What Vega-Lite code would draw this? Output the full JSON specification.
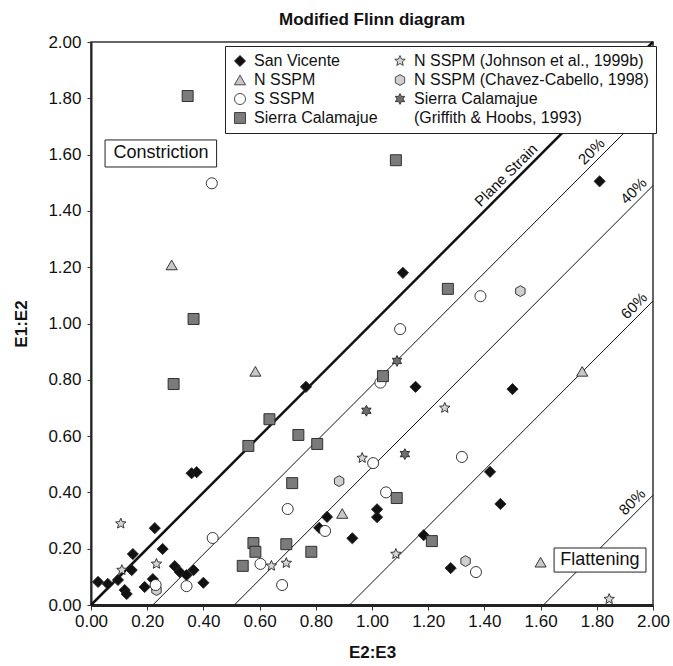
{
  "$schema": "https://vega.github.io/schema/vega-lite/v6.json",
  "width": 562,
  "height": 563,
  "autosize": {"type": "none"},
  "padding": {"left": 91, "top": 42, "right": 20, "bottom": 61},
  "background": "white",
  "config": {
    "font": "Liberation Sans",
    "view": {"stroke": "#333", "strokeWidth": 1.5}
  },
  "title": {
    "text": "Modified Flinn diagram",
    "fontSize": 17,
    "fontWeight": "bold",
    "anchor": "middle",
    "baseline": "bottom",
    "offset": 4,
    "dy": 17,
    "color": "#111"
  },
  "datasets": {
    "pts": [
      {"series": "San Vicente", "x": 1.81, "y": 1.505},
      {"series": "San Vicente", "x": 1.11, "y": 1.18},
      {"series": "San Vicente", "x": 0.765, "y": 0.775},
      {"series": "San Vicente", "x": 1.155, "y": 0.775},
      {"series": "San Vicente", "x": 1.5, "y": 0.767},
      {"series": "San Vicente", "x": 0.358, "y": 0.468},
      {"series": "San Vicente", "x": 0.376, "y": 0.472},
      {"series": "San Vicente", "x": 0.227, "y": 0.273},
      {"series": "San Vicente", "x": 0.255, "y": 0.199},
      {"series": "San Vicente", "x": 0.149, "y": 0.181},
      {"series": "San Vicente", "x": 0.145, "y": 0.124},
      {"series": "San Vicente", "x": 0.025, "y": 0.082},
      {"series": "San Vicente", "x": 0.06, "y": 0.075},
      {"series": "San Vicente", "x": 0.096, "y": 0.089},
      {"series": "San Vicente", "x": 0.12, "y": 0.053},
      {"series": "San Vicente", "x": 0.127, "y": 0.039},
      {"series": "San Vicente", "x": 0.191, "y": 0.064},
      {"series": "San Vicente", "x": 0.22, "y": 0.092},
      {"series": "San Vicente", "x": 0.298, "y": 0.138},
      {"series": "San Vicente", "x": 0.316, "y": 0.117},
      {"series": "San Vicente", "x": 0.34, "y": 0.106},
      {"series": "San Vicente", "x": 0.365, "y": 0.124},
      {"series": "San Vicente", "x": 0.4, "y": 0.079},
      {"series": "San Vicente", "x": 0.84, "y": 0.313},
      {"series": "San Vicente", "x": 0.812, "y": 0.274},
      {"series": "San Vicente", "x": 0.93, "y": 0.237},
      {"series": "San Vicente", "x": 1.018, "y": 0.34},
      {"series": "San Vicente", "x": 1.018, "y": 0.312},
      {"series": "San Vicente", "x": 1.184, "y": 0.248},
      {"series": "San Vicente", "x": 1.28, "y": 0.131},
      {"series": "San Vicente", "x": 1.42, "y": 0.473},
      {"series": "San Vicente", "x": 1.457, "y": 0.359},
      {"series": "N SSPM", "x": 0.287, "y": 1.208},
      {"series": "N SSPM", "x": 0.585, "y": 0.83},
      {"series": "N SSPM", "x": 0.894, "y": 0.325},
      {"series": "N SSPM", "x": 1.748, "y": 0.83},
      {"series": "N SSPM", "x": 1.6, "y": 0.152},
      {"series": "S SSPM", "x": 0.43, "y": 1.498},
      {"series": "S SSPM", "x": 1.1, "y": 0.98},
      {"series": "S SSPM", "x": 1.386, "y": 1.097},
      {"series": "S SSPM", "x": 1.03, "y": 0.79},
      {"series": "S SSPM", "x": 1.004, "y": 0.504},
      {"series": "S SSPM", "x": 1.32, "y": 0.526},
      {"series": "S SSPM", "x": 1.05, "y": 0.4},
      {"series": "S SSPM", "x": 0.833, "y": 0.263},
      {"series": "S SSPM", "x": 0.7, "y": 0.341},
      {"series": "S SSPM", "x": 0.68, "y": 0.071},
      {"series": "S SSPM", "x": 1.37, "y": 0.117},
      {"series": "S SSPM", "x": 0.433, "y": 0.238},
      {"series": "S SSPM", "x": 0.34, "y": 0.067},
      {"series": "S SSPM", "x": 0.603, "y": 0.146},
      {"series": "N SSPM (Chavez-Cabello, 1998)", "x": 1.528, "y": 1.115},
      {"series": "N SSPM (Chavez-Cabello, 1998)", "x": 0.883, "y": 0.44},
      {"series": "N SSPM (Chavez-Cabello, 1998)", "x": 1.333, "y": 0.156},
      {"series": "N SSPM (Chavez-Cabello, 1998)", "x": 0.233, "y": 0.053},
      {"series": "S SSPM", "x": 0.23, "y": 0.071},
      {"series": "Sierra Calamajue", "x": 0.344, "y": 1.808},
      {"series": "Sierra Calamajue", "x": 1.085, "y": 1.58},
      {"series": "Sierra Calamajue", "x": 0.365, "y": 1.016},
      {"series": "Sierra Calamajue", "x": 0.294, "y": 0.785},
      {"series": "Sierra Calamajue", "x": 0.635, "y": 0.66},
      {"series": "Sierra Calamajue", "x": 1.27, "y": 1.123},
      {"series": "Sierra Calamajue", "x": 1.039, "y": 0.813},
      {"series": "Sierra Calamajue", "x": 0.738, "y": 0.604},
      {"series": "Sierra Calamajue", "x": 0.805, "y": 0.572},
      {"series": "Sierra Calamajue", "x": 0.716, "y": 0.433},
      {"series": "Sierra Calamajue", "x": 1.088, "y": 0.38},
      {"series": "Sierra Calamajue", "x": 1.213, "y": 0.227},
      {"series": "Sierra Calamajue", "x": 0.695, "y": 0.216},
      {"series": "Sierra Calamajue", "x": 0.784, "y": 0.189},
      {"series": "Sierra Calamajue", "x": 0.56, "y": 0.565},
      {"series": "Sierra Calamajue", "x": 0.578, "y": 0.22},
      {"series": "Sierra Calamajue", "x": 0.585, "y": 0.189},
      {"series": "Sierra Calamajue", "x": 0.54, "y": 0.139},
      {"series": "N SSPM (Johnson et al., 1999b)", "x": 0.106, "y": 0.289},
      {"series": "N SSPM (Johnson et al., 1999b)", "x": 0.11, "y": 0.124},
      {"series": "N SSPM (Johnson et al., 1999b)", "x": 0.233, "y": 0.146},
      {"series": "N SSPM (Johnson et al., 1999b)", "x": 0.642, "y": 0.139},
      {"series": "N SSPM (Johnson et al., 1999b)", "x": 0.695, "y": 0.149},
      {"series": "N SSPM (Johnson et al., 1999b)", "x": 1.259, "y": 0.7},
      {"series": "N SSPM (Johnson et al., 1999b)", "x": 0.965, "y": 0.522},
      {"series": "N SSPM (Johnson et al., 1999b)", "x": 1.085, "y": 0.181},
      {"series": "N SSPM (Johnson et al., 1999b)", "x": 1.844, "y": 0.021},
      {"series": "Sierra Calamajue (Griffith & Hoobs, 1993)", "x": 1.089, "y": 0.867},
      {"series": "Sierra Calamajue (Griffith & Hoobs, 1993)", "x": 0.98, "y": 0.69},
      {"series": "Sierra Calamajue (Griffith & Hoobs, 1993)", "x": 1.117, "y": 0.536}
    ],
    "strainLines": [
      {"line": "Plane Strain", "x": 0, "y": 0},
      {"line": "Plane Strain", "x": 2, "y": 2}
    ],
    "pctLines": [
      {"line": "20%", "x": 0.22, "y": 0},
      {"line": "20%", "x": 2, "y": 1.78},
      {"line": "40%", "x": 0.51, "y": 0},
      {"line": "40%", "x": 2, "y": 1.49},
      {"line": "60%", "x": 0.92, "y": 0},
      {"line": "60%", "x": 2, "y": 1.08},
      {"line": "80%", "x": 1.61, "y": 0},
      {"line": "80%", "x": 2, "y": 0.39}
    ],
    "lineLabels": [
      {"label": "Plane Strain", "x": 1.502, "y": 1.502},
      {"label": "20%", "x": 1.806, "y": 1.586},
      {"label": "40%", "x": 1.956, "y": 1.446},
      {"label": "60%", "x": 1.958, "y": 1.038},
      {"label": "80%", "x": 1.951, "y": 0.341}
    ],
    "boxes": [
      {"label": "Constriction", "x": 0.05, "x2": 0.447, "y": 1.556, "y2": 1.652},
      {"label": "Flattening", "x": 1.648, "x2": 1.975, "y": 0.117, "y2": 0.2025}
    ],
    "boxLabels": [
      {"label": "Constriction", "x": 0.249, "y": 1.604},
      {"label": "Flattening", "x": 1.811, "y": 0.16}
    ]
  },
  "encoding": {
    "x": {
      "field": "x",
      "type": "quantitative",
      "title": "E2:E3",
      "scale": {"domain": [0, 2], "nice": false, "zero": false},
      "axis": {
        "values": [0, 0.2, 0.4, 0.6, 0.8, 1, 1.2, 1.4, 1.6, 1.8, 2],
        "format": ".2f",
        "grid": false,
        "labelFlush": false,
        "labelFontSize": 17,
        "labelColor": "#111",
        "labelPadding": 3,
        "tickSize": 5,
        "tickColor": "#333",
        "domainColor": "#222",
        "domainWidth": 3,
        "titleFontSize": 17,
        "titleFontWeight": "bold",
        "titleColor": "#111",
        "titlePadding": 15
      }
    },
    "y": {
      "field": "y",
      "type": "quantitative",
      "title": "E1:E2",
      "scale": {"domain": [0, 2], "nice": false, "zero": false},
      "axis": {
        "values": [0, 0.2, 0.4, 0.6, 0.8, 1, 1.2, 1.4, 1.6, 1.8, 2],
        "format": ".2f",
        "grid": false,
        "labelFlush": false,
        "labelFontSize": 17,
        "labelColor": "#111",
        "labelPadding": 6,
        "tickSize": 4,
        "tickColor": "#333",
        "domainColor": "#222",
        "domainWidth": 2,
        "titleFontSize": 17,
        "titleFontWeight": "bold",
        "titleColor": "#111",
        "titlePadding": 17
      }
    }
  },
  "layer": [
    {
      "data": {"name": "strainLines"},
      "mark": {"type": "line", "color": "#111", "strokeWidth": 2.5},
      "encoding": {"detail": {"field": "line"}}
    },
    {
      "data": {"name": "pctLines"},
      "mark": {"type": "line", "color": "#111", "strokeWidth": 1},
      "encoding": {"detail": {"field": "line"}}
    },
    {
      "data": {"name": "lineLabels"},
      "mark": {"type": "text", "angle": 315, "align": "center", "baseline": "bottom", "dy": -2, "fontSize": 15, "color": "#111"},
      "encoding": {"text": {"field": "label"}}
    },
    {
      "data": {"name": "pts"},
      "mark": {"type": "point", "filled": true, "stroke": "#222", "strokeWidth": 0.9, "opacity": 1},
      "encoding": {
        "color": {
          "field": "series",
          "type": "nominal",
          "scale": {
            "domain": ["San Vicente", "N SSPM", "S SSPM", "Sierra Calamajue", "N SSPM (Johnson et al., 1999b)", "N SSPM (Chavez-Cabello, 1998)", "Sierra Calamajue (Griffith & Hoobs, 1993)", "(Griffith & Hoobs, 1993)"],
            "range": ["#111111", "#c8c8c8", "#ffffff", "#7b7b7b", "#d6d6d6", "#cfcfcf", "#6e6e6e", "transparent"]
          },
          "legend": {
            "title": null,
            "orient": "none",
            "legendX": 134,
            "legendY": 4,
            "columns": 2,
            "columnPadding": 14,
            "rowPadding": 3,
            "padding": 7,
            "strokeColor": "#222",
            "fillColor": "white",
            "labelFontSize": 16,
            "labelColor": "#111",
            "labelLimit": 300,
            "labelOffset": 6,
            "symbolSize": 64,
            "symbolStrokeColor": "#222",
            "symbolStrokeWidth": 0.8,
            "labelExpr": "datum.value == 'Sierra Calamajue (Griffith & Hoobs, 1993)' ? 'Sierra Calamajue' : datum.label"
          }
        },
        "shape": {
          "field": "series",
          "type": "nominal",
          "scale": {
            "domain": ["San Vicente", "N SSPM", "S SSPM", "Sierra Calamajue", "N SSPM (Johnson et al., 1999b)", "N SSPM (Chavez-Cabello, 1998)", "Sierra Calamajue (Griffith & Hoobs, 1993)", "(Griffith & Hoobs, 1993)"],
            "range": [
              "diamond",
              "triangle-up",
              "circle",
              "square",
              "M0,-1L0.265,-0.364L0.951,-0.309L0.428,0.139L0.588,0.809L0,0.45L-0.588,0.809L-0.428,0.139L-0.951,-0.309L-0.265,-0.364Z",
              "M0,-1L0.866,-0.5L0.866,0.5L0,1L-0.866,0.5L-0.866,-0.5Z",
              "M0,-1L0.275,-0.476L0.866,-0.5L0.55,0L0.866,0.5L0.275,0.476L0,1L-0.275,0.476L-0.866,0.5L-0.55,0L-0.866,-0.5L-0.275,-0.476Z",
              "M0,0"
            ]
          },
          "legend": {
            "title": null,
            "orient": "none",
            "legendX": 134,
            "legendY": 4,
            "columns": 2,
            "columnPadding": 14,
            "rowPadding": 3,
            "padding": 7,
            "strokeColor": "#222",
            "fillColor": "white",
            "labelFontSize": 16,
            "labelColor": "#111",
            "labelLimit": 300,
            "labelOffset": 6,
            "symbolSize": 64,
            "symbolStrokeColor": "#222",
            "symbolStrokeWidth": 0.8,
            "labelExpr": "datum.value == 'Sierra Calamajue (Griffith & Hoobs, 1993)' ? 'Sierra Calamajue' : datum.label"
          }
        },
        "size": {
          "field": "series",
          "type": "nominal",
          "scale": {
            "domain": ["San Vicente", "N SSPM", "S SSPM", "Sierra Calamajue", "N SSPM (Johnson et al., 1999b)", "N SSPM (Chavez-Cabello, 1998)", "Sierra Calamajue (Griffith & Hoobs, 1993)", "(Griffith & Hoobs, 1993)"],
            "range": [125, 115, 100, 95, 150, 121, 150, 1]
          },
          "legend": null
        }
      }
    },
    {
      "data": {"name": "boxes"},
      "mark": {"type": "rect", "fill": "white", "stroke": "#222", "strokeWidth": 1},
      "encoding": {
        "x2": {"field": "x2"},
        "y2": {"field": "y2"}
      }
    },
    {
      "data": {"name": "boxLabels"},
      "mark": {"type": "text", "align": "center", "baseline": "middle", "fontSize": 18, "color": "#111"},
      "encoding": {"text": {"field": "label"}}
    }
  ]
}
